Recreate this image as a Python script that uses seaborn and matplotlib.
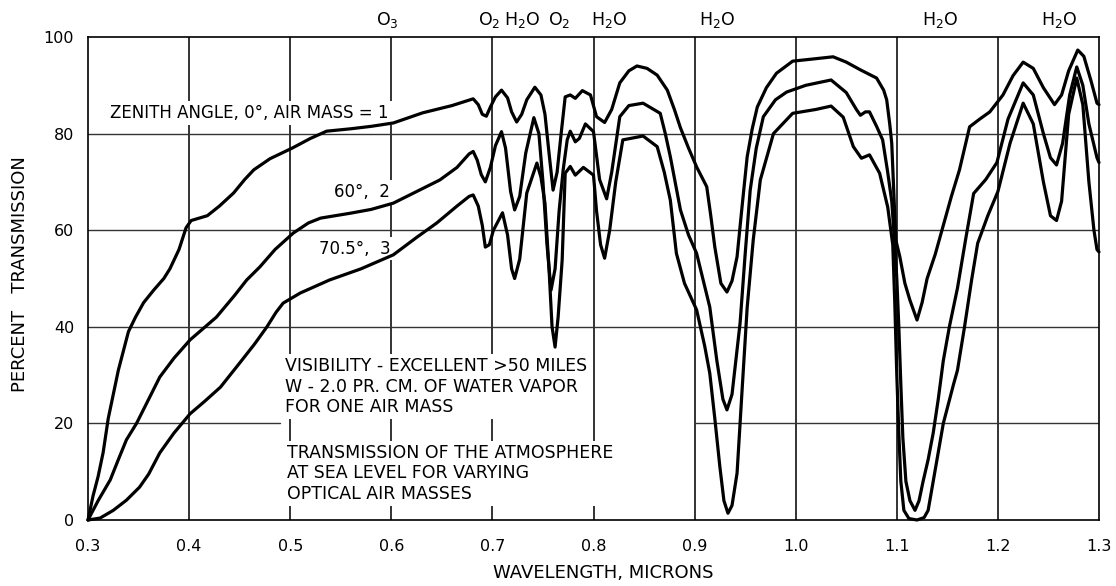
import matplotlib
matplotlib.use("Agg")
import pandas as pd
import seaborn as sns
import matplotlib.pyplot as plt

# values (wavelength in microns, percent transmission)
wl_am1 = [0.300, 0.305, 0.310, 0.315, 0.320, 0.325, 0.330, 0.335, 0.340, 0.347, 0.355, 0.365,
          0.375, 0.381, 0.390, 0.397, 0.402, 0.418, 0.430, 0.444, 0.455, 0.464, 0.480, 0.502,
          0.520, 0.536, 0.560, 0.580, 0.602, 0.631, 0.660, 0.675, 0.681, 0.686, 0.690, 0.694,
          0.698, 0.703, 0.709, 0.715, 0.719, 0.724, 0.729, 0.734, 0.742, 0.748, 0.752, 0.756,
          0.760, 0.764, 0.768, 0.772, 0.777, 0.782, 0.789, 0.797, 0.803, 0.811, 0.818, 0.826,
          0.835, 0.843, 0.853, 0.863, 0.873, 0.880, 0.886, 0.894, 0.902, 0.912, 0.916, 0.920,
          0.926, 0.932, 0.937, 0.942, 0.947, 0.952, 0.957, 0.962, 0.971, 0.981, 0.997, 1.015,
          1.037, 1.050, 1.064, 1.080, 1.087, 1.090, 1.093, 1.095, 1.097, 1.099, 1.103, 1.108,
          1.113, 1.120, 1.125, 1.130, 1.138, 1.146, 1.154, 1.162, 1.172, 1.182, 1.192, 1.205,
          1.215, 1.225, 1.235, 1.245, 1.256, 1.263, 1.270, 1.279, 1.285, 1.292, 1.298, 1.300]
pct_am1 = [0, 5, 9, 14, 21, 26, 31, 35, 39, 42, 45, 47.6,
           50, 52, 56, 60.5, 62, 63, 65, 67.7, 70.5, 72.5, 74.8, 77,
           79, 80.5, 81, 81.5, 82.2, 84.3, 85.8, 86.8, 87.2, 86, 84, 83.6,
           85.5, 87.6, 89, 87.4, 84.5, 82.4, 84, 87, 89.6, 88, 84, 76,
           68.3, 72, 80, 87.6, 88, 87.3, 88.9, 88, 83.5, 82.3, 85, 90.5,
           93, 94, 93.5, 92.1, 89, 85, 81.2, 77, 73.1, 69, 63, 56.5,
           49, 47.2, 49.5, 54.5, 65, 75.2, 81, 85.5, 89.5, 92.5, 95, 95.4,
           95.9, 94.8, 93.2, 91.5, 89, 87, 82, 78, 68, 58, 54.5, 49,
           45.5, 41.4, 45, 50, 55, 61, 67, 72.5, 81.4, 83, 84.5, 88,
           92, 94.8, 93.5, 89.5, 86, 88, 93, 97.3, 96, 91, 86.3, 86]

wl_am2 = [0.300, 0.310, 0.322, 0.330, 0.338, 0.348, 0.360, 0.371, 0.385, 0.401, 0.427, 0.445,
          0.457, 0.470, 0.485, 0.503, 0.518, 0.530, 0.559, 0.580, 0.602, 0.625, 0.648, 0.665,
          0.677, 0.681, 0.685, 0.689, 0.693, 0.698, 0.703, 0.709, 0.713, 0.718, 0.722, 0.727,
          0.733, 0.741, 0.746, 0.750, 0.754, 0.758, 0.762, 0.766, 0.770, 0.774, 0.777, 0.782,
          0.786, 0.792, 0.800, 0.806, 0.813, 0.818, 0.826, 0.835, 0.849, 0.866, 0.871, 0.876,
          0.886, 0.894, 0.902, 0.915, 0.922, 0.928, 0.932, 0.937, 0.945, 0.950, 0.955, 0.961,
          0.968, 0.980, 0.991, 1.010, 1.035, 1.050, 1.060, 1.064, 1.069, 1.073, 1.080, 1.086,
          1.091, 1.095, 1.098, 1.100, 1.102, 1.104, 1.106, 1.109, 1.113, 1.118, 1.122, 1.126,
          1.131, 1.136, 1.141, 1.146, 1.152, 1.160, 1.168, 1.176, 1.188, 1.199, 1.210, 1.225,
          1.235, 1.245, 1.252, 1.258, 1.264, 1.271, 1.278, 1.284, 1.290, 1.298, 1.300]
pct_am2 = [0, 4, 8.3, 12.5, 16.6, 20, 25, 29.6, 33.5, 37.3, 42, 46.5,
           49.7, 52.4, 56, 59.4, 61.5, 62.5, 63.5, 64.3, 65.6, 68, 70.4, 73,
           75.8, 76.3, 74.5, 71.5, 70, 73, 77.5, 80.4, 77, 68, 64.2, 67,
           76, 83.3, 80, 70, 57, 47.6, 52, 64, 72.5, 78.7, 80.5, 78.3,
           79, 82, 80.4, 70.5, 66.5, 72, 83.5, 85.8, 86.3, 84.2, 80, 75.2,
           64.2, 59, 55.2, 44.1, 33, 25, 22.8, 26, 40.8, 55, 68.3, 77,
           83.5, 87, 88.6, 90, 91.1, 88.5, 85, 83.8, 84.5, 84.5, 81.5, 78.7,
           72, 66, 57, 50, 40, 28, 17, 8, 4, 2, 4, 8,
           12.5, 18, 25, 33, 40, 48, 58, 67.6, 70.5, 74, 83, 90.5,
           88, 80, 75, 73.5, 78, 88, 93.8, 90, 82, 75, 74]

wl_am3 = [0.300, 0.312, 0.325, 0.338, 0.351, 0.360, 0.371, 0.385, 0.401, 0.415, 0.431, 0.450,
          0.465, 0.477, 0.486, 0.493, 0.510, 0.539, 0.570, 0.602, 0.625, 0.645, 0.665, 0.677,
          0.681, 0.686, 0.690, 0.693, 0.697, 0.701, 0.710, 0.715, 0.719, 0.722, 0.727, 0.734,
          0.744, 0.748, 0.752, 0.756, 0.759, 0.762, 0.765, 0.769, 0.772, 0.777, 0.782, 0.790,
          0.800, 0.803, 0.807, 0.811, 0.816, 0.822, 0.829, 0.849, 0.863, 0.870, 0.876, 0.882,
          0.890, 0.902, 0.910, 0.915, 0.920, 0.925, 0.929, 0.933, 0.937, 0.942, 0.947, 0.952,
          0.958, 0.965, 0.978, 0.997, 1.020, 1.035, 1.047, 1.057, 1.065, 1.073, 1.083, 1.091,
          1.096, 1.098, 1.100, 1.102, 1.104, 1.107, 1.112, 1.120, 1.127, 1.131, 1.136, 1.141,
          1.146, 1.156, 1.160, 1.167, 1.174, 1.180, 1.190, 1.200, 1.212, 1.225, 1.235, 1.245,
          1.252, 1.258, 1.263, 1.270, 1.278, 1.284, 1.290, 1.295, 1.298, 1.300]
pct_am3 = [0, 0.4, 2, 4.1, 6.8, 9.5, 13.9, 18, 22, 24.5, 27.5, 32.5,
           36.5, 40, 43, 44.9, 47, 49.7, 52, 54.9, 58.5, 61.5, 65, 67,
           67.3, 65, 61, 56.5, 57, 60, 63.6, 59, 52, 50, 54, 67.7,
           73.9, 71, 65.6, 52, 40, 35.8, 42, 53.8, 71.8, 73.2, 71.4, 73,
           71.4, 64, 57, 54.2, 60, 70, 78.7, 79.5, 77.3, 72, 66.2, 55.2,
           49, 43.5, 36, 30.4, 21, 11, 4, 1.4, 3, 9.7, 27, 44,
           58, 70.4, 80, 84.2, 85, 85.7, 83.4, 77.3, 74.9, 75.6, 71.8, 64.8,
           57, 45, 30, 18, 8, 2, 0.3, 0, 0.5, 2, 8, 14,
           20, 28, 31, 40, 49.7, 57.3, 63, 68, 78, 86.3, 82, 70,
           63, 62, 66, 84, 91.5, 86, 70, 60, 56, 55.5]

x_ticks = [0.3, 0.4, 0.5, 0.6, 0.7, 0.8, 0.9, 1.0, 1.1, 1.2, 1.3]
x_tick_labels = ["0.3", "0.4", "0.5", "0.6", "0.7", "0.8", "0.9", "1.0", "1.1", "1.2", "1.3"]
y_ticks = [0, 20, 40, 60, 80, 100]

band_pos = [0.596, 0.697, 0.729, 0.766, 0.815, 0.922, 1.143, 1.261]
band_names = ["O$_3$", "O$_2$", "H$_2$O", "O$_2$", "H$_2$O", "H$_2$O", "H$_2$O", "H$_2$O"]

sns.set_style("white")
plt.rcParams['font.family'] = ['DejaVu Sans']
plt.rcParams['text.color'] = 'black'
plt.rcParams['axes.labelcolor'] = 'black'
plt.rcParams['xtick.color'] = 'black'
plt.rcParams['ytick.color'] = 'black'

df = pd.concat([
    pd.DataFrame({'wavelength': wl_am1, 'transmission': pct_am1, 'air_mass': '1'}),
    pd.DataFrame({'wavelength': wl_am2, 'transmission': pct_am2, 'air_mass': '2'}),
    pd.DataFrame({'wavelength': wl_am3, 'transmission': pct_am3, 'air_mass': '3'}),
])

fig = plt.figure(figsize=(11.16, 5.86), dpi=100)
ax = fig.add_axes([88 / 1116, 1 - 520 / 586, (1099 - 88) / 1116, (520 - 37) / 586])

# grid: drafted lines, the 20 % line is left out behind the note block
for xv in x_ticks[1:-1]:
    ax.axvline(xv, color='#111111', lw=1.2, zorder=0.6)
for yv in y_ticks[1:-1]:
    if yv == 20:
        ax.axhline(yv, xmax=0.19, color='#333333', lw=1.0, zorder=0.6)
        ax.axhline(yv, xmin=0.6, color='#333333', lw=1.0, zorder=0.6)
    else:
        ax.axhline(yv, color='#333333', lw=1.0, zorder=0.6)

sns.lineplot(data=df, x='wavelength', y='transmission', hue='air_mass',
             palette=['black', 'black', 'black'], estimator=None, legend=False,
             linewidth=2.3, ax=ax)
for line in ax.lines[-3:]:
    line.set_clip_on(False)
    line.set_zorder(3)

ax.set_xlim(0.3, 1.3)
ax.set_ylim(0, 100)
ax.set_xticks(x_ticks)
ax.set_xticklabels(x_tick_labels)
ax.set_yticks(y_ticks)
ax.tick_params(axis='both', length=0, labelsize=11.5)
ax.tick_params(axis='x', pad=14)
ax.tick_params(axis='y', pad=10)
for sp in ax.spines.values():
    sp.set_color('black')
    sp.set_linewidth(1.2)

ax.set_xlabel("WAVELENGTH, MICRONS", fontsize=13)
ax.xaxis.set_label_coords(0.51, -0.11)
ax.xaxis.label.set_va('center')
ax.set_ylabel("PERCENT   TRANSMISSION", fontsize=13)
ax.yaxis.set_label_coords(-0.067, 0.51)
ax.yaxis.label.set_va('center')

for pos, name in zip(band_pos, band_names):
    ax.text(pos, 1.036, name, transform=ax.get_xaxis_transform(),
            ha='center', va='center', fontsize=12.5)

box = dict(facecolor='white', edgecolor='none', pad=2)
ax.text(0.322, 84.3, "ZENITH ANGLE, 0°, AIR MASS = 1", fontsize=12,
        ha='left', va='center', bbox=box, zorder=1)
ax.text(0.599, 68, "60°,  2", fontsize=12, ha='right', va='center', bbox=box, zorder=1)
ax.text(0.599, 56.2, "70.5°,  3", fontsize=12, ha='right', va='center', bbox=box, zorder=1)
ax.text(0.495, 33.8, "VISIBILITY - EXCELLENT >50 MILES\nW - 2.0 PR. CM. OF WATER VAPOR\nFOR ONE AIR MASS",
        fontsize=12.5, ha='left', va='top', linespacing=1.2, bbox=box, zorder=1)
ax.text(0.497, 15.8, "TRANSMISSION OF THE ATMOSPHERE\nAT SEA LEVEL FOR VARYING\nOPTICAL AIR MASSES",
        fontsize=12.5, ha='left', va='top', linespacing=1.2, bbox=box, zorder=1)

fig.savefig("out.png", dpi=100)
